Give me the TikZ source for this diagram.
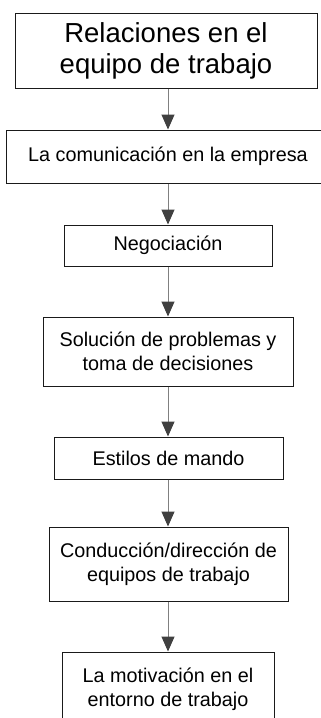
\documentclass[tikz,border=0pt]{standalone}
\usepackage{fontspec}
\setmainfont{Liberation Sans}
\usetikzlibrary{arrows.meta}
\definecolor{linegray}{HTML}{808080}
\definecolor{headgray}{HTML}{404040}
\definecolor{boxline}{HTML}{1A1A1A}
\tikzset{
  flowbox/.style={draw=boxline, line width=1pt, inner sep=0pt, align=center,
    font=\fontsize{19.8}{24.4}\selectfont},
  bigbox/.style={flowbox, font=\fontsize{27.5}{31}\selectfont},
  flowarrow/.style={draw=linegray, line width=1pt,
    -{Triangle[width=13pt,length=15pt,color=headgray]}}
}
\begin{document}
\begin{tikzpicture}[x=1pt,y=-1pt]
\useasboundingbox (0,0) rectangle (321,718);
\clip (0,0) rectangle (321,718);
\fill[white] (0,0) rectangle (321,718);
\node[bigbox, minimum width=302pt, minimum height=75pt] (b1) at (166,50.5)
  {Relaciones en el\\equipo de trabajo};
\node[flowbox, minimum width=324pt, minimum height=53pt] (b2) at (168,156.5)
  {La comunicación en la empresa};
\node[flowbox, minimum width=208pt, minimum height=41pt] (b3) at (168,245.5)
  {Negociación};
\node[flowbox, minimum width=250pt, minimum height=69pt] (b4) at (168,351.5)
  {Solución de problemas y\\toma de decisiones};
\node[flowbox, minimum width=229pt, minimum height=42pt] (b5) at (168.5,458)
  {Estilos de mando};
\node[flowbox, minimum width=239pt, minimum height=74pt] (b6) at (168.5,564)
  {Conducción/dirección de\\equipos de trabajo};
\node[flowbox, minimum width=212pt, minimum height=74pt] (b7) at (168,689)
  {La motivación en el\\entorno de trabajo};
\draw[flowarrow] (b1.south -| b2.north) -- (b2.north);
\draw[flowarrow] (b2.south) -- (b3.north);
\draw[flowarrow] (b3.south) -- (b4.north);
\draw[flowarrow] (b4.south) -- (b4.south |- b5.north);
\draw[flowarrow] (b5.south -| b4.south) -- (b4.south |- b6.north);
\draw[flowarrow] (b6.south -| b4.south) -- (b4.south |- b7.north);
\end{tikzpicture}
\end{document}
